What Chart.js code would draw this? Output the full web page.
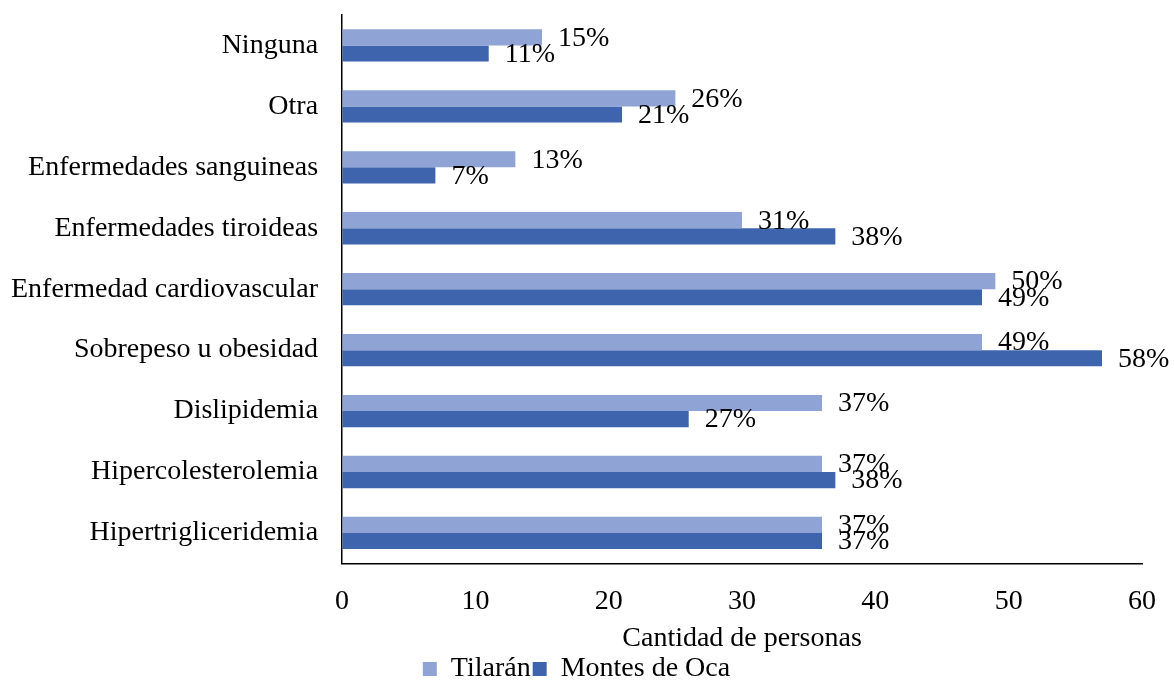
<!DOCTYPE html>
<html>
<head>
<meta charset="utf-8">
<script src="https://cdn.jsdelivr.net/npm/chart.js@4/dist/chart.umd.min.js"></script>
<style>
  html, body { margin: 0; padding: 0; background: #fff; }
</style>
</head>
<body>
<canvas id="chart" width="1174" height="680"></canvas>
<script>
// Chart data
const categories = [
    'Ninguna',
    'Otra',
    'Enfermedades sanguineas',
    'Enfermedades tiroideas',
    'Enfermedad cardiovascular',
    'Sobrepeso u obesidad',
    'Dislipidemia',
    'Hipercolesterolemia',
    'Hipertrigliceridemia'
];
const tilaranValues = [15, 25, 13, 30, 49, 48, 36, 36, 36];
const montesValues = [11, 21, 7, 37, 48, 57, 26, 37, 36];
const tilaranLabels = ['15%', '26%', '13%', '31%', '50%', '49%', '37%', '37%', '37%'];
const montesLabels = ['11%', '21%', '7%', '38%', '49%', '58%', '27%', '38%', '37%'];
const xTicks = [0, 10, 20, 30, 40, 50, 60];

const FONT = 'Liberation Serif, Times New Roman, serif';
const FONT_SIZE = 28;

// Draws the percentage text at the end of every bar
const barLabels = {
    id: 'barLabels',
    afterDatasetsDraw(chart) {
        const ctx = chart.ctx;
        ctx.save();
        ctx.font = FONT_SIZE + 'px ' + FONT;
        ctx.fillStyle = '#000';
        ctx.textAlign = 'left';
        ctx.textBaseline = 'middle';
        chart.data.datasets.forEach((ds, i) => {
            const meta = chart.getDatasetMeta(i);
            meta.data.forEach((bar, j) => {
                ctx.fillText(ds.pctLabels[j], bar.x + 16, bar.y + 1);
            });
        });
        ctx.restore();
    }
};

// invisible tick marks, only used to keep a gap between labels and axis
const hiddenGrid = (len) => ({
    display: true,
    drawOnChartArea: false,
    drawTicks: true,
    tickLength: len,
    color: 'rgba(0,0,0,0)'
});

new Chart(document.getElementById('chart').getContext('2d'), {
    type: 'bar',
    data: {
        labels: categories,
        datasets: [
            {
                label: 'Tilarán',
                data: tilaranValues,
                pctLabels: tilaranLabels,
                backgroundColor: '#8FA3D5',
                barPercentage: 1,
                categoryPercentage: 0.53
            },
            {
                label: 'Montes de Oca',
                data: montesValues,
                pctLabels: montesLabels,
                backgroundColor: '#3D64AD',
                barPercentage: 1,
                categoryPercentage: 0.53
            }
        ]
    },
    options: {
        indexAxis: 'y',
        responsive: false,
        animation: false,
        layout: { padding: { top: 15, right: 32, left: 11, bottom: -13 } },
        scales: {
            x: {
                min: 0,
                max: 60,
                afterBuildTicks: axis => { axis.ticks = xTicks.map(v => ({ value: v })); },
                grid: hiddenGrid(21),
                border: { display: true, color: '#000', width: 1.5 },
                ticks: {
                    color: '#000',
                    padding: 0,
                    font: { family: FONT, size: FONT_SIZE }
                },
                title: {
                    display: true,
                    text: 'Cantidad de personas',
                    color: '#000',
                    padding: { top: 7, bottom: 0 },
                    font: { family: FONT, size: FONT_SIZE, lineHeight: 1 }
                }
            },
            y: {
                grid: hiddenGrid(24),
                border: { display: true, color: '#000', width: 1.5 },
                ticks: {
                    color: '#000',
                    padding: 0,
                    font: { family: FONT, size: FONT_SIZE, lineHeight: 1 }
                }
            }
        },
        plugins: {
            legend: {
                position: 'bottom',
                labels: {
                    color: '#000',
                    boxWidth: 14,
                    boxHeight: 14,
                    padding: 2,
                    font: { family: FONT, size: FONT_SIZE }
                }
            },
            tooltip: { enabled: false }
        }
    },
    plugins: [barLabels]
});
</script>
</body>
</html>
